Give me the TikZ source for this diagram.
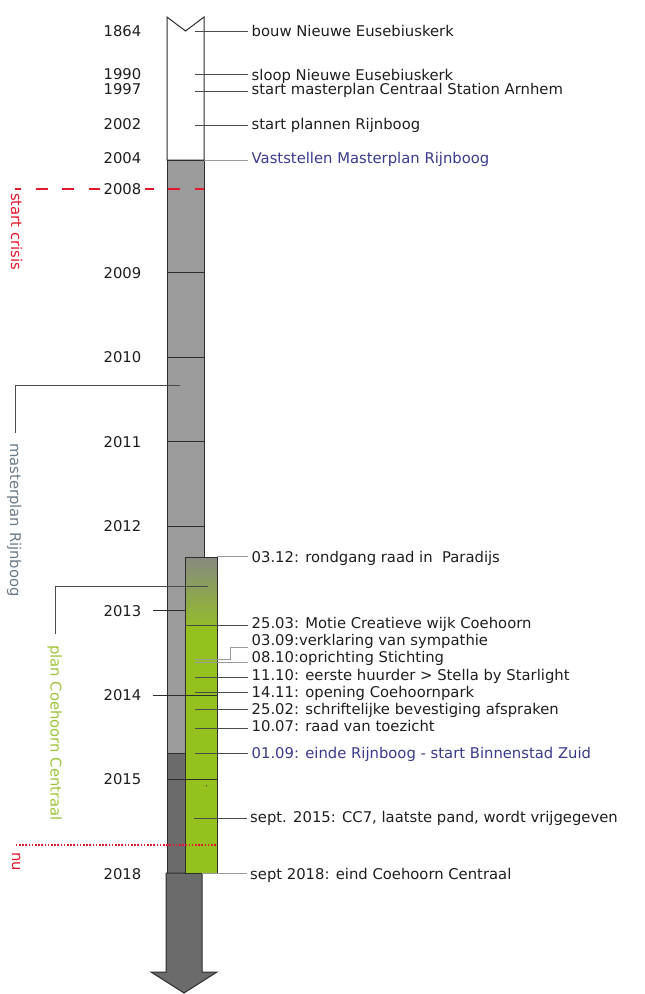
\documentclass[tikz,border=0pt]{standalone}
\usepackage{fontspec}
\setmainfont{DejaVu Sans}
\definecolor{colgray}{HTML}{9B9B9B}
\definecolor{coldark}{HTML}{6B6B6B}
\definecolor{colgreen}{HTML}{95C11F}
\definecolor{gradtop}{HTML}{868A80}
\definecolor{gradbot}{HTML}{93BA2C}
\definecolor{outl}{HTML}{2E2E2E}
\definecolor{txt}{HTML}{1E1E1E}
\definecolor{bluetxt}{HTML}{3A3A8C}
\definecolor{mptxt}{HTML}{6A7A88}
\definecolor{pctxt}{HTML}{9DC43A}
\definecolor{redc}{HTML}{E3182D}
\definecolor{connc}{HTML}{4A4A4A}
\definecolor{lconnc}{HTML}{9A9A9A}
\begin{document}
\begin{tikzpicture}[x=1pt,y=-1pt,
  every node/.style={font=\fontsize{14.8}{17}\selectfont, text=txt},
  yr/.style={anchor=east, inner sep=0pt, text height=10.7pt, text depth=0pt},
  ev/.style={anchor=west, inner xsep=3.5pt, inner ysep=0pt, text height=10.7pt, text depth=0pt},
  conn/.style={draw=connc, line width=0.9pt},
  lconn/.style={draw=lconnc, line width=0.9pt},
  outline/.style={draw=outl, line width=1pt},
  vlabel/.style={rotate=-90, anchor=west, inner sep=0pt, text height=10.7pt, text depth=0pt}]
\useasboundingbox (0,0) rectangle (645,994);

% ---------- column ----------
\path[outline, fill=white] (167,17) -- (185.5,31) -- (204,17) -- (204,160) -- (167,160) -- cycle;
\path[outline, fill=colgray] (167,160) rectangle (204,753);
\path[outline, fill=coldark] (167,753) rectangle (204,873);
\path[outline, fill=coldark] (166,873) -- (202,873) -- (202,972) -- (217,972) -- (184,993) -- (151,972) -- (166,972) -- cycle;

% year ticks in column
\foreach \yy in {272.7,357.3,441.7,526} \draw[outl, line width=1pt] (167,\yy) -- (204,\yy);

% ---------- red dashed crisis line ----------
\coordinate (crisisL) at (15,188.7);
\coordinate (crisisR) at (204,188.7);
\draw[redc, line width=2pt, dash pattern=on 12pt off 14.5pt, dash phase=6pt] (crisisL) -- (crisisR);
\node[vlabel, text=redc] (crisis) at (16.5,193) {start crisis};

% ---------- year labels ----------
\node[yr] (y1864) at (141.5,31) {1864};
\node[yr] (y1990) at (141.5,74) {1990};
\node[yr] (y1997) at (141.5,89) {1997};
\node[yr] (y2002) at (141.5,124) {2002};
\node[yr] (y2004) at (141.5,158) {2004};
\node[yr, fill=white, inner xsep=4pt] (y2008) at (145.5,188.7) {2008};
\node[yr] (y2009) at (141.5,272.7) {2009};
\node[yr] (y2010) at (141.5,357.3) {2010};
\node[yr] (y2011) at (141.5,441.7) {2011};
\node[yr] (y2012) at (141.5,526) {2012};
\node[yr] (y2013) at (141.5,610.7) {2013};
\node[yr] (y2014) at (141.5,695) {2014};
\node[yr] (y2015) at (141.5,779) {2015};
\node[yr] (y2018) at (141.5,874) {2018};

% ---------- masterplan bracket ----------
\coordinate (mpIn) at (180,385);
\coordinate (mpCorner) at (15.5,385);
\node[vlabel, text=mptxt] (mplabel) at (15.5,443) {masterplan Rijnboog};
\draw[conn] (mpIn) -- (mpCorner) -- (mpCorner |- 0,433);

% ---------- green box ----------
\shade[top color=gradtop, bottom color=gradbot] (185,557) rectangle (217,625);
\path[fill=colgreen] (185,625) rectangle (217,873);
\draw[outl, line width=1pt] (185,557) rectangle (217,873);
\draw[outl, line width=1pt] (185,625) -- (217,625);
\fill[outl] (206.5,785.7) circle (0.6pt);

% ticks over/near green box
\coordinate (t2013a) at (153,610.7);
\coordinate (t2013b) at (185,610.7);
\draw[outl, line width=1pt] (t2013a) -- (t2013b);
\coordinate (t2014a) at (153,695);
\coordinate (t2014b) at (217,695);
\draw[outl, line width=1pt] (t2014a) -- (t2014b);
\draw[outl, line width=1pt] (167,779) -- (217,779);

% ---------- Coehoorn bracket ----------
\coordinate (pcIn) at (208,586.7);
\coordinate (pcCorner) at (55.5,586.7);
\node[vlabel, text=pctxt] (pclabel) at (56,645) {plan Coehoorn Centraal};
\draw[conn] (pcIn) -- (pcCorner) -- (pcCorner |- 0,634);

% ---------- nu ----------
\draw[redc, line width=1.6pt, dash pattern=on 1.6pt off 1.6pt] (15.7,845) -- (217,845);
\node[vlabel, text=redc] (nu) at (17.5,852) {nu};

% ---------- events ----------
\node[ev] (e1864) at (248,31) {bouw Nieuwe Eusebiuskerk};
\node[ev] (e1990) at (248,75) {sloop Nieuwe Eusebiuskerk};
\node[ev] (e1997) at (248,89.3) {start masterplan Centraal Station Arnhem};
\node[ev] (e2002) at (248,124) {start plannen Rijnboog};
\node[ev, text=bluetxt] (e2004) at (248,158.3) {Vaststellen Masterplan Rijnboog};
\node[ev] (e0312) at (248,556.7) {03.12: rondgang raad in\ \ Paradijs};
\node[ev] (e2503) at (248,622.7) {25.03: Motie Creatieve wijk Coehoorn};
\node[ev] (e0309) at (248,640) {03.09:verklaring van sympathie};
\node[ev] (e0810) at (248,657.3) {08.10:oprichting Stichting};
\node[ev] (e1110) at (248,675) {11.10: eerste huurder > Stella by Starlight};
\node[ev] (e1411) at (248,692.3) {14.11: opening Coehoornpark};
\node[ev] (e2502) at (248,709.3) {25.02: schriftelijke bevestiging afspraken};
\node[ev] (e1007) at (248,725.7) {10.07: raad van toezicht};
\node[ev, text=bluetxt] (e0109) at (248,753.3) {01.09: einde Rijnboog - start Binnenstad Zuid};
\node[ev, inner xsep=3pt] (es15) at (247,816.7) {sept. 2015: CC7, laatste pand, wordt vrijgegeven};
\node[ev, inner xsep=3pt] (e2018) at (247,874.3) {sept 2018: eind Coehoorn Centraal};

\coordinate (c1864) at (195,31);
\coordinate (c1990) at (195,74.3);
\coordinate (c1997) at (195,91.7);
\coordinate (c2002) at (195,125.7);
\coordinate (c2004) at (204,160.3);
\coordinate (c0312) at (217,556.7);
\coordinate (c2503) at (185,625);
\coordinate (c0309) at (195,659.3);
\coordinate (k0309) at (230.7,647.3);
\coordinate (c0810) at (195,662);
\coordinate (c1110) at (195,677.3);
\coordinate (c1411) at (195,692.7);
\coordinate (c2502) at (195,709.7);
\coordinate (c1007) at (195,728.7);
\coordinate (c0109) at (195,753);
\coordinate (cs15) at (194,818.3);
\coordinate (c2018) at (202,873.3);

\draw[conn] (c1864) -- (c1864 -| e1864.west);
\draw[conn] (c1990) -- (c1990 -| e1990.west);
\draw[conn] (c1997) -- (c1997 -| e1997.west);
\draw[conn] (c2002) -- (c2002 -| e2002.west);
\draw[lconn] (c2004) -- (c2004 -| e2004.west);
\draw[lconn] (c0312) -- (c0312 -| e0312.west);
\draw[conn] (c2503) -- (c2503 -| e2503.west);
\draw[lconn] (c0309) -| (k0309) -- (k0309 -| e0309.west);
\draw[lconn] (c0810) -- (c0810 -| e0810.west);
\draw[conn] (c1110) -- (c1110 -| e1110.west);
\draw[conn] (c1411) -- (c1411 -| e1411.west);
\draw[conn] (c2502) -- (c2502 -| e2502.west);
\draw[conn] (c1007) -- (c1007 -| e1007.west);
\draw[conn] (c0109) -- (c0109 -| e0109.west);
\draw[conn] (cs15) -- (cs15 -| es15.west);
\draw[lconn] (c2018) -- (c2018 -| e2018.west);
\end{tikzpicture}
\end{document}
